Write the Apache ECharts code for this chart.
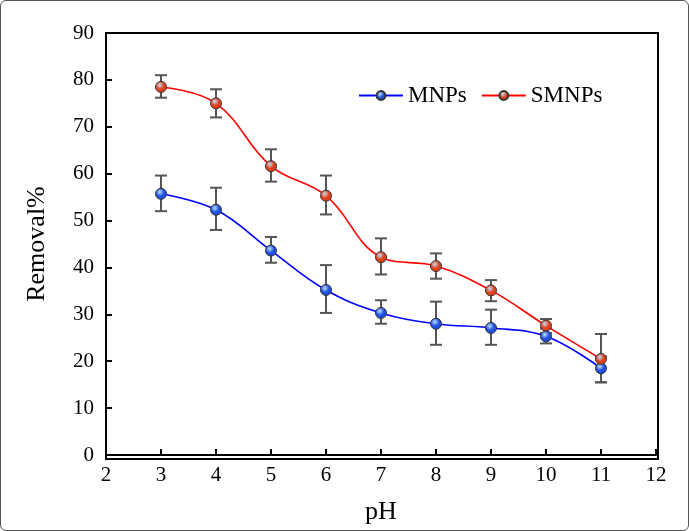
<!DOCTYPE html>
<html><head><meta charset="utf-8">
<script src="https://cdn.jsdelivr.net/npm/echarts@6/dist/echarts.min.js"></script>
<style>
html,body{margin:0;padding:0;background:#fff}
#c{width:689px;height:531px;box-sizing:border-box;border:1px solid #555;border-radius:6px}
</style></head><body>
<div id="c"></div>
<script>
var ph = [3, 4, 5, 6, 7, 8, 9, 10, 11]
var mnps = [55.7, 52.3, 43.6, 35.2, 30.3, 28.0, 27.1, 25.3, 18.5]
var mnpsLow = [52.0, 48.0, 41.0, 30.3, 28.0, 23.5, 23.5, 23.8, 15.5]
var mnpsHigh = [59.6, 57.0, 46.5, 40.5, 33.0, 32.7, 31.0, 27.0, 21.0]
var smnps = [78.5, 75.0, 61.6, 55.3, 42.2, 40.3, 35.1, 27.6, 20.5]
var smnpsLow = [76.2, 72.0, 58.3, 51.3, 38.5, 37.6, 32.8, 26.0, 15.5]
var smnpsHigh = [81.0, 78.0, 65.2, 59.6, 46.2, 43.0, 37.3, 29.0, 25.8]

var chart = echarts.init(document.getElementById('c'))
var font = 'Liberation Serif'

function pairs(ys) { return ph.map(function(x, i) { return [x, ys[i]] }) }
function errData(lo, hi) { return ph.map(function(x, i) { return [x, lo[i], hi[i]] }) }

function errSeries(lo, hi) {
  return {
    type: 'custom', silent: true, z: 1,
    data: errData(lo, hi),
    renderItem: function(params, api) {
      var x = api.value(0)
      var a = api.coord([x, api.value(1)])
      var b = api.coord([x, api.value(2)])
      var w = 6, st = { stroke: '#555', lineWidth: 2 }
      return { type: 'group', children: [
        { type: 'line', shape: { x1: a[0], y1: a[1], x2: b[0], y2: b[1] }, style: st },
        { type: 'line', shape: { x1: a[0]-w, y1: a[1], x2: a[0]+w, y2: a[1] }, style: st },
        { type: 'line', shape: { x1: b[0]-w, y1: b[1], x2: b[0]+w, y2: b[1] }, style: st }
      ] }
    }
  }
}

function lineSeries(name, ys, color, fill) {
  return {
    name: name, type: 'line', smooth: 0.4, z: 3,
    data: pairs(ys),
    symbol: 'circle', symbolSize: 11,
    lineStyle: { color: color, width: 1.6 },
    itemStyle: {
      color: new echarts.graphic.RadialGradient(0.4, 0.35, 0.7, [
        { offset: 0, color: '#bfe0ff' }, { offset: 0.5, color: fill }, { offset: 1, color: fill }
      ]),
      borderColor: '#333', borderWidth: 1
    }
  }
}

chart.setOption({
  animation: false,
  grid: { left: 105, right: 32, top: 32, bottom: 73 },
  legend: {
    top: 78, left: 352, itemWidth: 44, itemHeight: 11, itemGap: 14,
    data: ['MNPs', 'SMNPs'],
    textStyle: { fontFamily: font, fontSize: 23, color: '#000' }
  },
  xAxis: {
    type: 'value', min: 2, max: 12, interval: 1,
    name: 'pH', nameLocation: 'middle', nameGap: 44,
    nameTextStyle: { fontFamily: font, fontSize: 26, color: '#000' },
    axisLine: { lineStyle: { color: '#000', width: 2 } },
    axisTick: { inside: true, length: 6, lineStyle: { color: '#000', width: 2 } },
    axisLabel: { fontFamily: font, fontSize: 21, color: '#000', margin: 10 },
    splitLine: { show: false }
  },
  yAxis: {
    type: 'value', min: 0, max: 90, interval: 10,
    name: 'Removal%', nameLocation: 'middle', nameGap: 56,
    nameTextStyle: { fontFamily: font, fontSize: 26, color: '#000' },
    axisLine: { lineStyle: { color: '#000', width: 2 } },
    axisTick: { inside: true, length: 6, lineStyle: { color: '#000', width: 2 } },
    axisLabel: { fontFamily: font, fontSize: 21, color: '#000', margin: 12 },
    splitLine: { show: false }
  },
  graphic: [{
    type: 'rect', silent: true, z: 0,
    shape: { x: 105, y: 32, width: 552, height: 426 },
    style: { fill: 'none', stroke: '#000', lineWidth: 2 }
  }],
  series: [
    errSeries(mnpsLow, mnpsHigh),
    errSeries(smnpsLow, smnpsHigh),
    lineSeries('MNPs', mnps, '#0000ff', '#1f4fe0'),
    lineSeries('SMNPs', smnps, '#ff0000', '#e0401a')
  ]
})
</script>
</body></html>
